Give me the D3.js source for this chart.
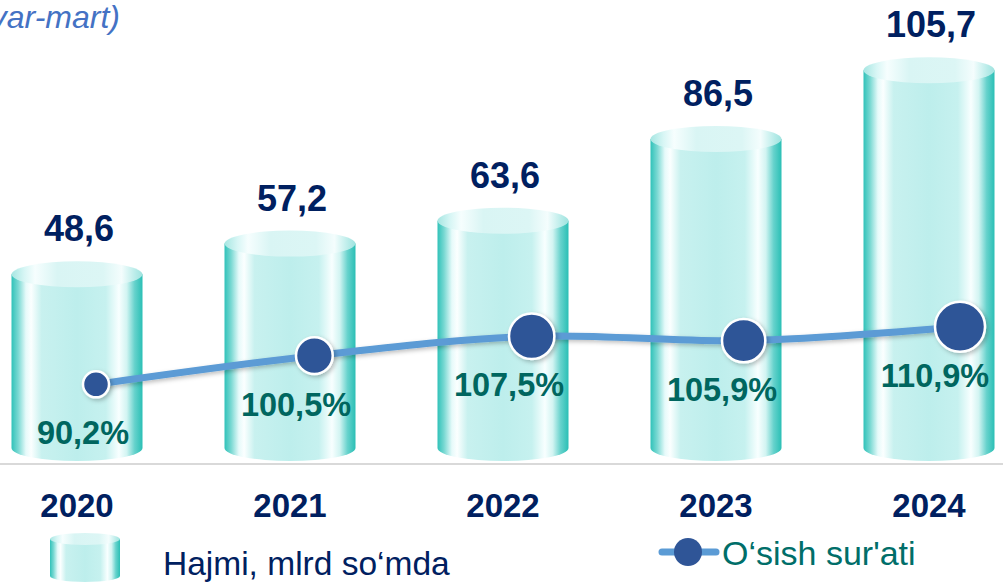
<!DOCTYPE html>
<html>
<head>
<meta charset="utf-8">
<script src="https://cdn.jsdelivr.net/npm/d3@7"></script>
<style>
  body{margin:0;background:#fff;}
  svg{display:block;font-family:"Liberation Sans",Arial,sans-serif;}
</style>
</head>
<body>
<svg id="chart" width="1003" height="583"></svg>
<script>
var years = ["2020","2021","2022","2023","2024"];
var volume = [48.6, 57.2, 63.6, 86.5, 105.7];
var growth = [90.2, 100.5, 107.5, 105.9, 110.9];
var volumeLabels = ["48,6","57,2","63,6","86,5","105,7"];
var growthLabels = ["90,2%","100,5%","107,5%","105,9%","110,9%"];
var titleText = "(yanvar-mart)";
var legendVolume = "Hajmi, mlrd so‘mda";
var legendGrowth = "O‘sish sur'ati";

var svg = d3.select("#chart");
var W = 1003, H = 583;
var base = 448, cw = 131, ry = 13;

var x = d3.scalePoint().domain(years).range([77, 929]);
var y = d3.scaleLinear().domain([0, 120]).range([base, base - 3.573*120]);
var yg = d3.scaleLinear().domain([80, 120]).range([412.7, 301.5]);
var rg = d3.scalePow().exponent(3).domain([90.2, 110.9]).range([13, 25]);

function makeGradient(id, stops){
  var g = defs.append("linearGradient")
    .attr("id", id)
    .attr("x1", "0%").attr("y1", "0%")
    .attr("x2", "100%").attr("y2", "0%");
  stops.forEach(function(s){
    g.append("stop").attr("offset", s[0]).attr("stop-color", s[1]);
  });
}

var defs = svg.append("defs");
makeGradient("body", [
  ["0%","#30c2b9"],["5%","#78d8d2"],["11%","#e6fafa"],["15%","#fbffff"],
  ["23%","#c8f1ef"],["50%","#bdeeec"],["72%","#c6f1ef"],["82%","#f8ffff"],
  ["88%","#d2f4f2"],["94%","#66d2cc"],["100%","#2abfb5"]
]);
makeGradient("top", [
  ["0%","#a6e6e2"],["10%","#d8f6f5"],["18%","#f6fefe"],["35%","#d9f5f4"],
  ["70%","#dcf6f5"],["84%","#f4fdfd"],["95%","#b6ebe8"],["100%","#9fe3df"]
]);

var shadow = defs.append("filter").attr("id", "shadow")
  .attr("x", "-30%").attr("y", "-30%").attr("width", "160%").attr("height", "160%");
shadow.append("feDropShadow")
  .attr("dx", 2).attr("dy", 2).attr("stdDeviation", 2)
  .attr("flood-color", "#000").attr("flood-opacity", 0.25);

function cylinder(g, cx, top, bottom, w, r){
  var x0 = cx - w/2, x1 = cx + w/2;
  g.append("path")
    .attr("d", "M" + x0 + "," + top + " L" + x0 + "," + bottom +
      " A" + (w/2) + "," + r + " 0 0 0 " + x1 + "," + bottom +
      " L" + x1 + "," + top + " Z")
    .attr("fill", "url(#body)");
  g.append("ellipse")
    .attr("cx", cx).attr("cy", top)
    .attr("rx", w/2).attr("ry", r)
    .attr("fill", "url(#top)");
}

// title (runs off the left edge, as in the source slide)
svg.append("text")
  .attr("x", 120).attr("y", 28)
  .attr("text-anchor", "end")
  .attr("font-size", 32).attr("font-style", "italic")
  .attr("fill", "#4472c4")
  .text(titleText);

// baseline
svg.append("line")
  .attr("x1", 0).attr("x2", W)
  .attr("y1", 464).attr("y2", 464)
  .attr("stroke", "#d9d9d9").attr("stroke-width", 2);

// cylinders
var bars = svg.append("g");
years.forEach(function(d, i){
  cylinder(bars, x(d), y(volume[i]), base, cw, ry);
});

// value labels
svg.append("g").selectAll("text")
  .data(years)
  .join("text")
  .attr("x", function(d){ return x(d) + 2; })
  .attr("y", function(d, i){ return y(volume[i]) - ry - 20; })
  .attr("text-anchor", "middle")
  .attr("font-size", 36).attr("font-weight", "bold")
  .attr("fill", "#002060")
  .text(function(d, i){ return volumeLabels[i]; });

// growth line
var px = function(d, i){ return x(d) + 6 + rg(growth[i]); };
var line = d3.line()
  .x(function(d, i){ return px(d, i); })
  .y(function(d, i){ return yg(growth[i]); })
  .curve(d3.curveCatmullRom.alpha(0.5));

svg.append("path")
  .datum(years)
  .attr("d", line)
  .attr("fill", "none")
  .attr("stroke", "#5b9bd5")
  .attr("stroke-width", 7)
  .attr("filter", "url(#shadow)");

svg.append("g").selectAll("circle")
  .data(years)
  .join("circle")
  .attr("cx", px)
  .attr("cy", function(d, i){ return yg(growth[i]); })
  .attr("r", function(d, i){ return rg(growth[i]); })
  .attr("fill", "#2f5597")
  .attr("stroke", "#fff").attr("stroke-width", 2.5)
  .attr("filter", "url(#shadow)");

// growth labels
svg.append("g").selectAll("text")
  .data(years)
  .join("text")
  .attr("x", function(d){ return x(d) + 6; })
  .attr("y", function(d, i){ return yg(growth[i]) + 60; })
  .attr("text-anchor", "middle")
  .attr("font-size", 32.5).attr("font-weight", "bold")
  .attr("fill", "#00665f")
  .text(function(d, i){ return growthLabels[i]; });

// year labels
svg.append("g").selectAll("text")
  .data(years)
  .join("text")
  .attr("x", function(d){ return x(d); })
  .attr("y", 517)
  .attr("text-anchor", "middle")
  .attr("font-size", 33).attr("font-weight", "bold")
  .attr("fill", "#002060")
  .text(function(d){ return d; });

// legend
var lg = svg.append("g");
cylinder(lg, 85, 539, 576, 70, 6);
lg.append("text")
  .attr("x", 163).attr("y", 575)
  .attr("font-size", 33.5)
  .attr("fill", "#002060")
  .text(legendVolume);

lg.append("line")
  .attr("x1", 662).attr("x2", 716)
  .attr("y1", 552).attr("y2", 552)
  .attr("stroke", "#5b9bd5").attr("stroke-width", 7)
  .attr("stroke-linecap", "round");
lg.append("circle")
  .attr("cx", 688).attr("cy", 552).attr("r", 14)
  .attr("fill", "#2f5597");
lg.append("text")
  .attr("x", 722).attr("y", 565)
  .attr("font-size", 34)
  .attr("fill", "#006e69")
  .text(legendGrowth);
</script>
</body>
</html>
